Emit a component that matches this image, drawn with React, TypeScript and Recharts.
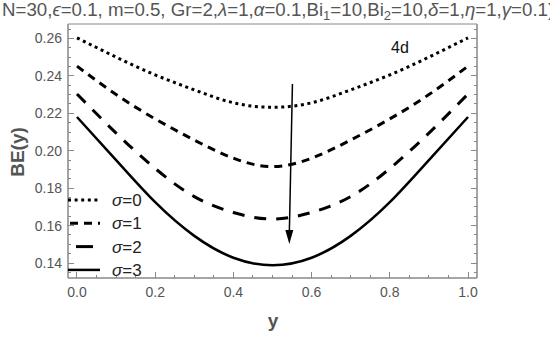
import React from 'react'
import { LineChart, Line, XAxis, YAxis, Legend, ReferenceLine, ReferenceArea } from 'recharts'

// position across the channel
const yPos = [0, 0.1, 0.2, 0.3, 0.4, 0.5, 0.6, 0.7, 0.8, 0.9, 1.0]
// BE(y) for each sigma
const sigma0 = [0.2603, 0.2500, 0.2405, 0.2325, 0.2256, 0.2232, 0.2256, 0.2325, 0.2405, 0.2500, 0.2603]
const sigma1 = [0.2452, 0.2300, 0.2170, 0.2057, 0.1960, 0.1915, 0.1960, 0.2057, 0.2170, 0.2300, 0.2452]
const sigma2 = [0.2303, 0.2094, 0.1905, 0.1755, 0.1670, 0.1635, 0.1670, 0.1755, 0.1905, 0.2094, 0.2303]
const sigma3 = [0.2180, 0.1950, 0.1725, 0.1545, 0.1428, 0.1388, 0.1428, 0.1545, 0.1725, 0.1950, 0.2180]
const seriesNames = ['σ=0', 'σ=1', 'σ=2', 'σ=3']

const xTicks = Array.from({ length: 21 }, (_, i) => i * 0.05)
const yTicks = Array.from({ length: 27 }, (_, i) => 0.135 + i * 0.005)
const xDomain = [-0.023, 1.023]
const yDomain = [0.132, 0.2677]

// arrow annotation, in data units
const arrowFrom = { x: 0.551, y: 0.2357 }
const arrowTo = { x: 0.543, y: 0.1502 }

const data = yPos.map((y, i) => ({ y, s0: sigma0[i], s1: sigma1[i], s2: sigma2[i], s3: sigma3[i] }))

const AXIS = '#888'
const TXT = '#555'
const FONT = 'Liberation Sans, Arial, sans-serif'

const lineStyles = [
  { dash: '3 3.6', width: 3 },
  { dash: '8 6', width: 3 },
  { dash: '12 10', width: 3 },
  { dash: undefined, width: 2.5 },
]

const isMajorX = (v: number) => Math.round(v * 100) % 20 === 0
const isMajorY = (v: number) => Math.round(v * 1000) % 20 === 0

function BottomTick({ x, y, payload }: any) {
  const major = isMajorX(payload.value)
  return (
    <g>
      <line x1={x} x2={x} y1={y} y2={y - (major ? 6 : 3)} stroke={AXIS} strokeWidth={1} shapeRendering="crispEdges" />
      {major && (
        <text x={x} y={y + 19} textAnchor="middle" fontSize={14} fill={TXT} fontFamily={FONT}>
          {payload.value.toFixed(1)}
        </text>
      )}
    </g>
  )
}
function TopTick({ x, y, payload }: any) {
  const major = isMajorX(payload.value)
  return <line x1={x} x2={x} y1={y} y2={y + (major ? 6 : 3)} stroke={AXIS} strokeWidth={1} shapeRendering="crispEdges" />
}
function LeftTick({ x, y, payload }: any) {
  const major = isMajorY(payload.value)
  return (
    <g>
      <line x1={x} x2={x + (major ? 6 : 3)} y1={y} y2={y} stroke={AXIS} strokeWidth={1} shapeRendering="crispEdges" />
      {major && (
        <text x={x - 6} y={y + 5} textAnchor="end" fontSize={14} fill={TXT} fontFamily={FONT}>
          {payload.value.toFixed(2)}
        </text>
      )}
    </g>
  )
}
function RightTick({ x, y, payload }: any) {
  const major = isMajorY(payload.value)
  return <line x1={x} x2={x - (major ? 6 : 3)} y1={y} y2={y} stroke={AXIS} strokeWidth={1} shapeRendering="crispEdges" />
}

function Arrow({ x1, y1, x2, y2 }: any) {
  return (
    <g>
      <line x1={x1} y1={y1} x2={x2} y2={y2 - 10} stroke="#000" strokeWidth={1.5} />
      <polygon points={`${x2 - 4},${y2 - 14} ${x2 + 4},${y2 - 14} ${x2},${y2}`} fill="#000" />
    </g>
  )
}

const legendSamples = [
  { x1: 0, x2: 32 },
  { x1: 2, x2: 32 },
  { x1: 8, x2: 25 },
  { x1: 0, x2: 32 },
]

function LegendBox({ payload }: any) {
  return (
    <svg width={100} height={96} style={{ display: 'block' }}>
      {(payload || []).map((p: any, i: number) => {
        const cy = 12 + i * 23.3
        const s = lineStyles[i]
        return (
          <g key={p.value}>
            <line x1={legendSamples[i].x1} x2={legendSamples[i].x2} y1={cy} y2={cy} stroke="#000"
              strokeWidth={s.width} strokeDasharray={i === 2 ? undefined : s.dash} />
            <text x={44} y={cy + 6} fontSize={17} fill="#222" fontFamily={FONT}>
              <tspan fontStyle="italic">σ</tspan>{p.value.slice(1)}
            </text>
          </g>
        )
      })}
    </svg>
  )
}

export default function App() {
  return (
    <div style={{ position: 'absolute', left: 0, top: 0, width: 550, height: 337, background: '#fff' }}>
      <LineChart width={550} height={337} data={data} margin={{ top: 24, right: 0, bottom: 0, left: 0 }}>
        <XAxis dataKey="y" type="number" domain={xDomain} ticks={xTicks} allowDataOverflow
          height={59} tickSize={0} tickMargin={0} tickLine={false} axisLine={{ stroke: AXIS }} tick={<BottomTick />} interval={0} />
        <XAxis xAxisId="top" dataKey="y" type="number" orientation="top" domain={xDomain} ticks={xTicks}
          allowDataOverflow height={0} tickSize={0} tickMargin={0} tickLine={false} axisLine={{ stroke: AXIS }} tick={<TopTick />} interval={0} />
        <YAxis type="number" domain={yDomain} ticks={yTicks} allowDataOverflow width={68}
          tickSize={0} tickMargin={0} tickLine={false} axisLine={{ stroke: AXIS }} tick={<LeftTick />} interval={0} />
        <YAxis yAxisId="right" orientation="right" type="number" domain={yDomain} ticks={yTicks}
          allowDataOverflow width={73} tickSize={0} tickMargin={0} tickLine={false} axisLine={{ stroke: AXIS }} tick={<RightTick />} interval={0} />
        <ReferenceArea x1={xDomain[0]} x2={xDomain[1]} y1={yDomain[0]} y2={yDomain[1]} fill="none" fillOpacity={0}
          stroke={AXIS} strokeWidth={1} ifOverflow="visible" />
        {['s0', 's1', 's2', 's3'].map((k, i) => (
          <Line key={k} dataKey={k} name={seriesNames[i]} type="natural" stroke="#000" dot={false}
            strokeWidth={lineStyles[i].width} strokeDasharray={lineStyles[i].dash} isAnimationActive={false} />
        ))}
        <ReferenceLine segment={[arrowFrom, arrowTo]} shape={<Arrow />} ifOverflow="visible" />
        <Legend layout="horizontal" align="center" verticalAlign="middle" content={<LegendBox />}
          wrapperStyle={{ position: 'absolute', left: 68, top: 188, width: 100, height: 96 }} />
      </LineChart>
      <svg width={550} height={337} style={{ position: 'absolute', left: 0, top: 0, pointerEvents: 'none' }}>
        <text x={2} y={16} fontSize={18.7} fill={TXT} fontFamily={FONT}>
          N=30,<tspan fontStyle="italic">ϵ</tspan>=0.1, m=0.5, Gr=2,<tspan fontStyle="italic">λ</tspan>=1,
          <tspan fontStyle="italic">α</tspan>=0.1,Bi<tspan dy={4} fontSize={13}>1</tspan><tspan dy={-4}>=10,Bi</tspan>
          <tspan dy={4} fontSize={13}>2</tspan><tspan dy={-4}>=10,</tspan><tspan fontStyle="italic">δ</tspan>=1,
          <tspan fontStyle="italic">η</tspan>=1,<tspan fontStyle="italic">γ</tspan>=0.1)
        </text>
        <text x={400} y={53} textAnchor="middle" fontSize={16} fill="#111" fontFamily={FONT}>4d</text>
        <text x={273} y={327} textAnchor="middle" fontSize={19} fontWeight="bold" fill={TXT} fontFamily={FONT}>y</text>
        <text transform="translate(24,152) rotate(-90)" textAnchor="middle" fontSize={19} fontWeight="bold"
          fill={TXT} fontFamily={FONT}>BE(y)</text>
      </svg>
    </div>
  )
}
